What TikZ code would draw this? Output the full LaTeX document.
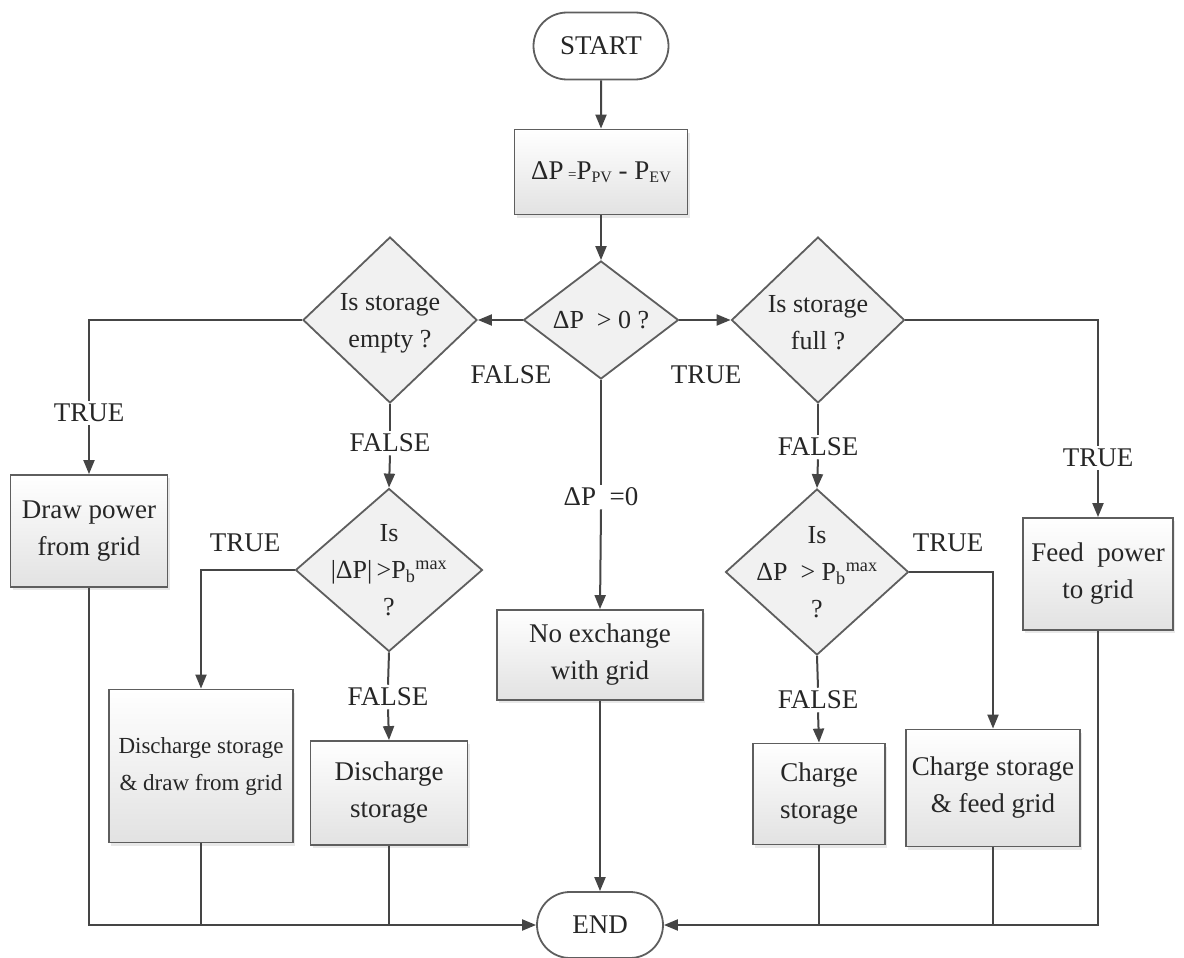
\documentclass[tikz,border=0pt]{standalone}
\usepackage{fontspec}
\setmainfont{Liberation Serif}
\usetikzlibrary{arrows.meta,shapes.geometric,shapes.misc,shadows,shadings}
\definecolor{lc}{HTML}{454545}
\definecolor{bc}{HTML}{5E5E5E}
\definecolor{fillc}{HTML}{E2E2E2}
\definecolor{diac}{HTML}{F1F1F1}
\definecolor{txc}{HTML}{262626}
\newcommand{\fs}{\fontsize{27}{37}\selectfont}
\newcommand{\fsd}{\fontsize{26}{37}\selectfont}
\newcommand{\fsm}{\fontsize{23}{37}\selectfont}
\tikzset{
  ln/.style={draw=lc, line width=2pt},
  arr/.style={ln, -{Triangle[length=14pt,width=11pt]}},
  box/.style={rectangle, draw=bc, line width=1.8pt, top color=white, bottom color=fillc,
    inner sep=0pt, align=center, font=\fs, text=txc,
    drop shadow={shadow xshift=2pt, shadow yshift=-3pt, opacity=0.18}},
  dia/.style={diamond, draw=bc, line width=1.8pt, fill=diac, inner sep=0pt},
  diatext/.style={align=center, font=\fsd, text=txc, inner sep=0pt},
  term/.style={rounded rectangle, draw=bc, line width=1.8pt, fill=white, inner sep=0pt, font=\fs, text=txc},
  lab/.style={inner sep=3pt, font=\fs, text=txc},
}
\begin{document}
\begin{tikzpicture}[x=1pt,y=-1pt]
\path[use as bounding box] (0,0) rectangle (1184,958);

% terminals
\node[term, minimum width=135pt, minimum height=67pt] (start) at (601,46) {START};
\node[term, minimum width=126pt, minimum height=66pt] (end) at (600,925) {END};

% process
\node[box, minimum width=173pt, minimum height=85pt] (calc) at (601,172)
  {ΔP\,{\fontsize{15}{15}\selectfont =}P{\fontsize{16}{16}\selectfont\raisebox{-3pt}{PV}} - P{\fontsize{16}{16}\selectfont\raisebox{-3pt}{EV}}};

% diamonds
\node[dia, minimum width=155pt, minimum height=118pt] (d0) at (601,320) {};
\node[diatext] (d0t) at (601,320) {ΔP\ \ > 0 ?};
\node[dia, minimum width=174pt, minimum height=166pt] (dL) at (390,320) {};
\node[diatext] (dLt) at (390,323) {Is storage\\empty ?};
\node[dia, minimum width=173pt, minimum height=166pt] (dR) at (818,320) {};
\node[diatext] (dRt) at (818,323) {Is storage\\full ?};
\node[dia, minimum width=187pt, minimum height=163pt] (dL2) at (389,570) {};
\node[diatext] (dL2t) at (389,570) {Is\\|ΔP|\,>P\textsubscript{b}\textsuperscript{max}\\?};
\node[dia, minimum width=183pt, minimum height=166pt] (dR2) at (817,572) {};
\node[diatext] (dR2t) at (817,572) {Is\\ΔP\ \ > P\textsubscript{b}\textsuperscript{max}\\?};

% action boxes
\node[box, minimum width=157pt, minimum height=112pt] (drawg) at (89,531) {Draw power\\from grid};
\node[box, minimum width=184pt, minimum height=153pt, font=\fsm] (dischdraw) at (201,766) {Discharge storage\\\& draw from grid};
\node[box, minimum width=157pt, minimum height=104pt] (disch) at (389,793) {Discharge\\storage};
\node[box, minimum width=206pt, minimum height=90pt] (noex) at (600,655) {No exchange\\with grid};
\node[box, minimum width=132pt, minimum height=101pt] (charge) at (819,794) {Charge\\storage};
\node[box, minimum width=174pt, minimum height=117pt] (chfeed) at (993,788) {Charge storage\\\& feed grid};
\node[box, minimum width=150pt, minimum height=112pt] (feed) at (1098,574) {Feed\ \ power\\to grid};

% labels
\node[lab] (lf0) at (511,375) {FALSE};
\node[lab] (lt0) at (706,375) {TRUE};
\node[lab] (ltL) at (89,413) {TRUE};
\node[lab] (lfL) at (390,443) {FALSE};
\node[lab] (ltL2) at (245,543) {TRUE};
\node[lab] (lfL2) at (388,697) {FALSE};
\node[lab] (ldp) at (601,497) {ΔP\ \ =0};
\node[lab] (lfR) at (818,447) {FALSE};
\node[lab] (ltR) at (1098,458) {TRUE};
\node[lab] (ltR2) at (948,543) {TRUE};
\node[lab] (lfR2) at (818,700) {FALSE};

% connectors
\draw[arr] (start) -- (calc);
\draw[arr] (calc) -- (d0);
\draw[arr] (d0.west) -- (dL.east);
\draw[arr] (d0.east) -- (dR.west);

\draw[ln] (dL.west) -| (ltL.north);
\draw[arr] (ltL.south) -- (drawg.north);
\draw[ln] (dL.south) -- (lfL.north);
\draw[arr] (lfL.south) -- (dL2.north);
\draw[arr] (dL2.west) -| (dischdraw.north);
\draw[ln] (dL2.south) -- (lfL2.north);
\draw[arr] (lfL2.south) -- (disch.north);

\draw[ln] (d0.south) -- (ldp.north);
\draw[arr] (ldp.south) -- (noex.north);
\draw[arr] (noex.south) -- (end.north);

\draw[ln] (dR.east) -| (ltR.north);
\draw[arr] (ltR.south) -- (feed.north);
\draw[ln] (dR.south) -- (lfR.north);
\draw[arr] (lfR.south) -- (dR2.north);
\draw[arr] (dR2.east) -| (chfeed.north);
\draw[ln] (dR2.south) -- (lfR2.north);
\draw[arr] (lfR2.south) -- (charge.north);

\draw[arr] (drawg.south) |- (end.west);
\draw[arr] (feed.south) |- (end.east);
\draw[ln] (dischdraw.south) -- (dischdraw.south |- end.west);
\draw[ln] (disch.south) -- (disch.south |- end.west);
\draw[ln] (charge.south) -- (charge.south |- end.east);
\draw[ln] (chfeed.south) -- (chfeed.south |- end.east);
\end{tikzpicture}
\end{document}
